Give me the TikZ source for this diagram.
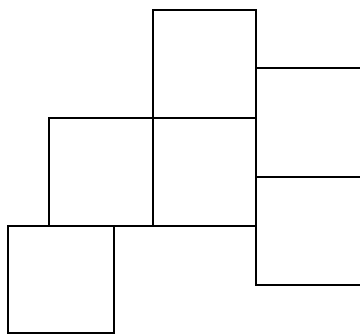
\documentclass[tikz,border=0pt]{standalone}
\usepackage{tikz}

\begin{document}
\begin{tikzpicture}[x=1pt,y=-1pt,wall/.style={line width=2.6pt,line cap=rect}]
\useasboundingbox (0,0) rectangle (360,334);
% column of squares
\draw[wall] (153,10) rectangle (256,118);\draw[wall] (153,118) rectangle (256,226);
\draw[wall] (49,118) rectangle (153,226);\draw[wall] (8,226) rectangle (114,333);
\draw[wall] (114,226)--(153,226);
% squares on the right
\draw[wall] (256,118)--(256,285);\draw[wall] (256,68)--(360,68);\draw[wall] (256,177)--(360,177);\draw[wall] (256,285)--(360,285);
\end{tikzpicture}
\end{document}
